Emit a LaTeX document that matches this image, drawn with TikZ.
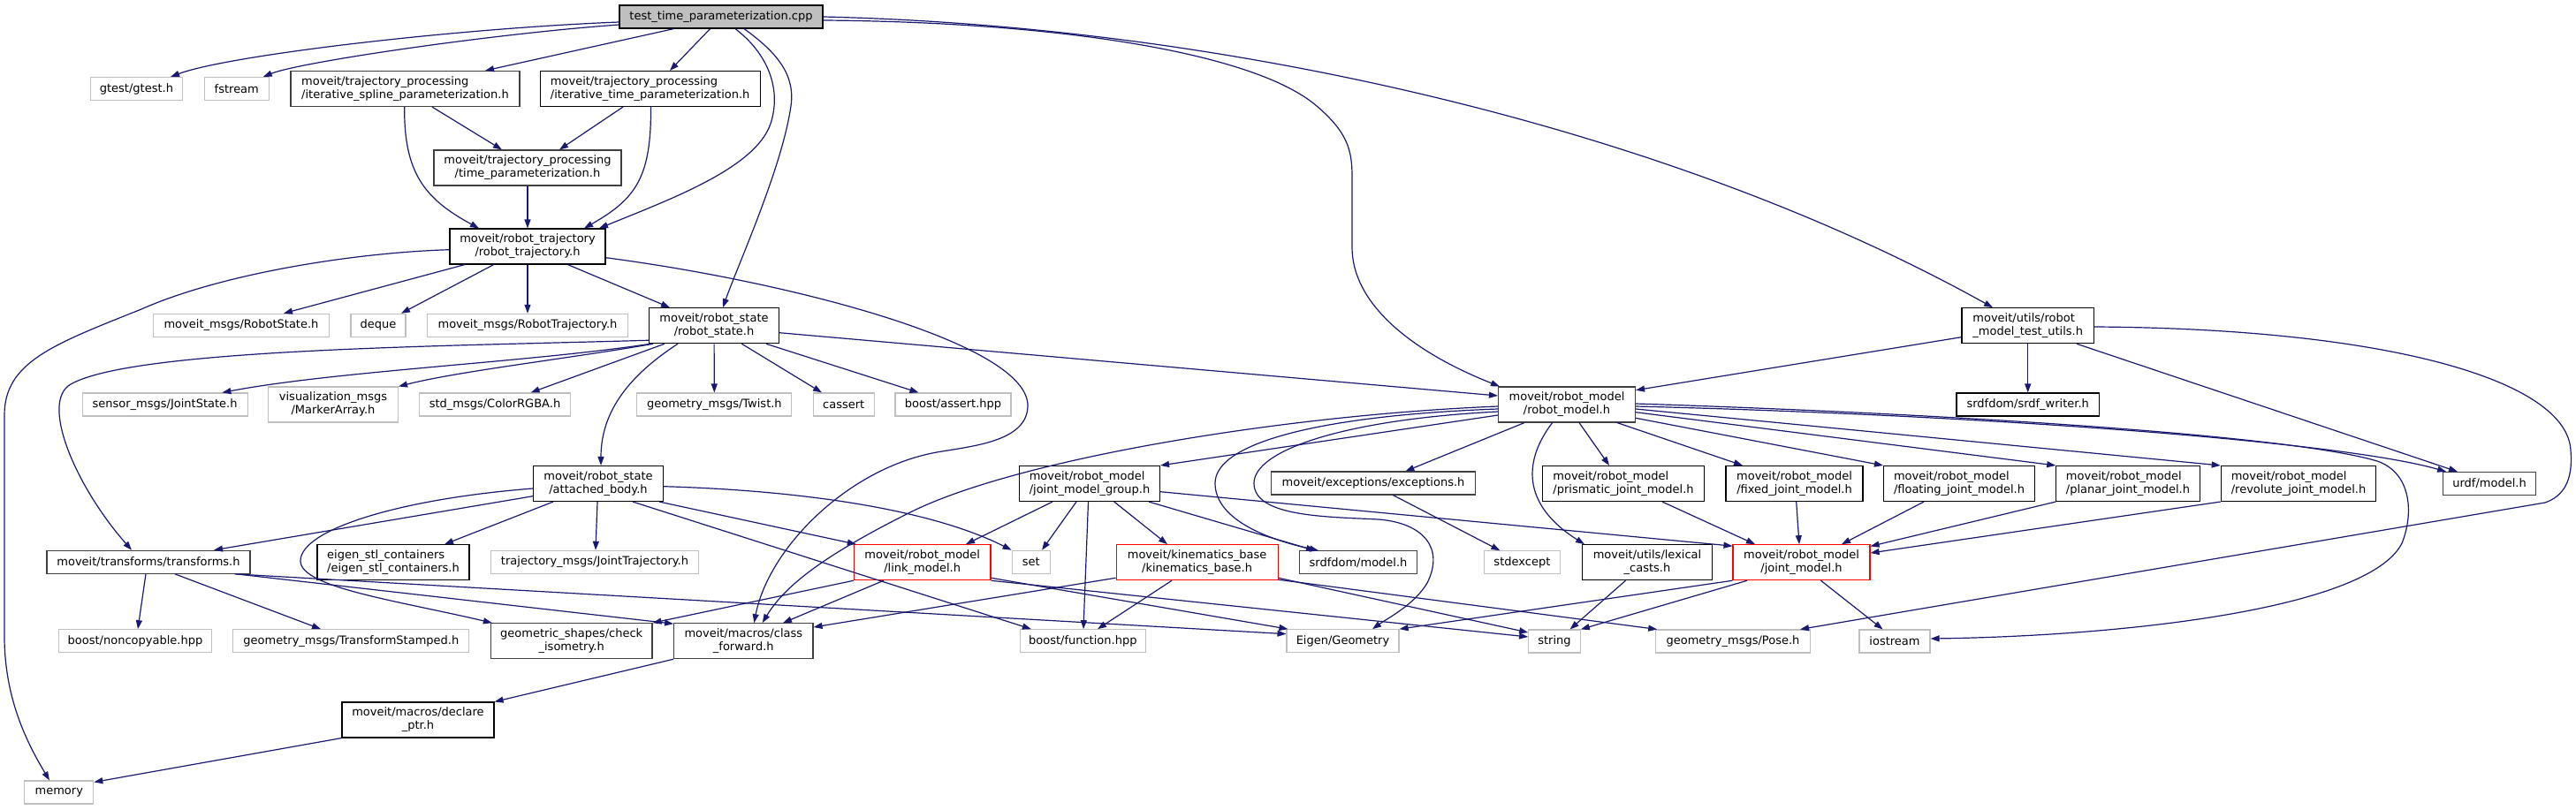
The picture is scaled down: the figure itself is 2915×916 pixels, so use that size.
\documentclass[tikz,border=0pt]{standalone}
\usepackage{fontspec}
\setmainfont{DejaVu Sans}
\usetikzlibrary{arrows.meta}
\definecolor{edgec}{HTML}{191970}
\definecolor{grayc}{HTML}{BFBFBF}
\definecolor{darkc}{HTML}{404040}
\newcommand\twol[2]{\begin{tabular}{@{}c@{}}\multicolumn{1}{@{}l@{}}{#1}\\#2\end{tabular}}
\begin{document}
\begin{tikzpicture}[x=1pt,y=-1pt,
  every node/.style={font=\fontsize{13}{15}\selectfont},
  box/.style={rectangle, draw, inner sep=0pt, line width=1.1pt, fill=white},
  gnode/.style={box, draw=grayc},
  bnode/.style={box, draw=black},
  dnode/.style={box, draw=darkc},
  rnode/.style={box, draw=red},
  topnode/.style={box, draw=black, fill=grayc},
  edge/.style={draw=edgec, line width=1.2pt, -{Triangle[length=10pt,width=7pt]}}]
\fill[white] (0,0) rectangle (2915,916);
\useasboundingbox (0,0) rectangle (2915,916);
% ---------- nodes ----------
\node[topnode, minimum width=230pt, minimum height=26pt] (T) at (816,19) {test\_time\_parameterization.cpp};
\node[gnode, minimum width=104pt, minimum height=26pt] (gtest) at (154.4,100.5) {gtest/gtest.h};
\node[gnode, minimum width=73.5pt, minimum height=26pt] (fstream) at (267.8,100.5) {fstream};
\node[dnode, minimum width=259pt, minimum height=40pt] (IS) at (458.5,100.5) {\twol{moveit/trajectory\_processing}{/iterative\_spline\_parameterization.h}};
\node[bnode, minimum width=249pt, minimum height=40pt] (IT) at (735.7,100.5) {\twol{moveit/trajectory\_processing}{/iterative\_time\_parameterization.h}};
\node[dnode, minimum width=212pt, minimum height=40pt] (TP) at (597,190) {\twol{moveit/trajectory\_processing}{/time\_parameterization.h}};
\node[bnode, minimum width=176pt, minimum height=40pt] (RT) at (597,279) {\twol{moveit/robot\_trajectory}{/robot\_trajectory.h}};
\node[gnode, minimum width=199pt, minimum height=26pt] (RSh) at (273,368.3) {moveit\_msgs/RobotState.h};
\node[gnode, minimum width=62pt, minimum height=26pt] (deque) at (428,368.3) {deque};
\node[gnode, minimum width=227pt, minimum height=26pt] (RTmsg) at (597,368.3) {moveit\_msgs/RobotTrajectory.h};
\node[bnode, minimum width=147pt, minimum height=40pt] (RS) at (808,368.7) {\twol{moveit/robot\_state}{/robot\_state.h}};
\node[bnode, minimum width=149.5pt, minimum height=40pt] (RMTU) at (2294.7,368.7) {\twol{moveit/utils/robot}{\_model\_test\_utils.h}};
\node[gnode, minimum width=187pt, minimum height=26pt] (JS) at (186.6,458) {sensor\_msgs/JointState.h};
\node[gnode, minimum width=147pt, minimum height=40pt] (MA) at (377,458) {\twol{visualization\_msgs}{/MarkerArray.h}};
\node[gnode, minimum width=171pt, minimum height=26pt] (CRGBA) at (560,458) {std\_msgs/ColorRGBA.h};
\node[gnode, minimum width=175pt, minimum height=26pt] (Twist) at (808.4,458) {geometry\_msgs/Twist.h};
\node[gnode, minimum width=69pt, minimum height=26pt] (cassert) at (954.7,458) {cassert};
\node[gnode, minimum width=131pt, minimum height=26pt] (bassert) at (1078.5,458) {boost/assert.hpp};
\node[dnode, minimum width=155pt, minimum height=40pt] (RM) at (1773,458) {\twol{moveit/robot\_model}{/robot\_model.h}};
\node[bnode, minimum width=161.5pt, minimum height=26pt] (SW) at (2294.7,458) {srdfdom/srdf\_writer.h};
\node[bnode, minimum width=147pt, minimum height=40pt] (AB) at (677,547.5) {\twol{moveit/robot\_state}{/attached\_body.h}};
\node[bnode, minimum width=159pt, minimum height=40pt] (JMG) at (1233,547.5) {\twol{moveit/robot\_model}{/joint\_model\_group.h}};
\node[dnode, minimum width=231pt, minimum height=26pt] (EX) at (1554,547) {moveit/exceptions/exceptions.h};
\node[bnode, minimum width=183.5pt, minimum height=40pt] (PJ) at (1837,547.5) {\twol{moveit/robot\_model}{/prismatic\_joint\_model.h}};
\node[bnode, minimum width=155pt, minimum height=40pt] (FJ) at (2030.5,547.5) {\twol{moveit/robot\_model}{/fixed\_joint\_model.h}};
\node[bnode, minimum width=171pt, minimum height=40pt] (FLJ) at (2217,547.5) {\twol{moveit/robot\_model}{/floating\_joint\_model.h}};
\node[bnode, minimum width=162.5pt, minimum height=40pt] (PLJ) at (2408,547.5) {\twol{moveit/robot\_model}{/planar\_joint\_model.h}};
\node[bnode, minimum width=175.5pt, minimum height=40pt] (RJ) at (2601,547.5) {\twol{moveit/robot\_model}{/revolute\_joint\_model.h}};
\node[dnode, minimum width=104.7pt, minimum height=26pt] (URDF) at (2817,547.5) {urdf/model.h};
\node[dnode, minimum width=230pt, minimum height=26pt] (TF) at (168,636.3) {moveit/transforms/transforms.h};
\node[bnode, minimum width=172pt, minimum height=40pt] (ESC) at (445,636.7) {\twol{eigen\_stl\_containers}{/eigen\_stl\_containers.h}};
\node[gnode, minimum width=234.5pt, minimum height=26pt] (JT) at (673,636.3) {trajectory\_msgs/JointTrajectory.h};
\node[rnode, minimum width=154.6pt, minimum height=40pt] (LM) at (1043.7,636.7) {\twol{moveit/robot\_model}{/link\_model.h}};
\node[gnode, minimum width=43pt, minimum height=26pt] (set) at (1166.7,636.3) {set};
\node[rnode, minimum width=183pt, minimum height=40pt] (KB) at (1354.6,636.7) {\twol{moveit/kinematics\_base}{/kinematics\_base.h}};
\node[dnode, minimum width=133.6pt, minimum height=26pt] (SM) at (1537,636.8) {srdfdom/model.h};
\node[gnode, minimum width=86pt, minimum height=26pt] (SE) at (1722.4,636.8) {stdexcept};
\node[bnode, minimum width=147pt, minimum height=40pt] (LC) at (1864,636.7) {\twol{moveit/utils/lexical}{\_casts.h}};
\node[rnode, minimum width=155pt, minimum height=40pt] (JM) at (2038.5,636.7) {\twol{moveit/robot\_model}{/joint\_model.h}};
\node[gnode, minimum width=173pt, minimum height=26pt] (BNC) at (153,725.7) {boost/noncopyable.hpp};
\node[gnode, minimum width=267pt, minimum height=26pt] (TS) at (397.4,725.7) {geometry\_msgs/TransformStamped.h};
\node[dnode, minimum width=182.5pt, minimum height=40pt] (CI) at (646.7,725.7) {\twol{geometric\_shapes/check}{\_isometry.h}};
\node[dnode, minimum width=157.4pt, minimum height=40pt] (CF) at (841.3,725.7) {\twol{moveit/macros/class}{\_forward.h}};
\node[gnode, minimum width=142.5pt, minimum height=26pt] (BF) at (1225.3,725.7) {boost/function.hpp};
\node[gnode, minimum width=127pt, minimum height=26pt] (EG) at (1519.5,725.7) {Eigen/Geometry};
\node[gnode, minimum width=58.6pt, minimum height=26pt] (STR) at (1759,726) {string};
\node[gnode, minimum width=174.5pt, minimum height=26pt] (POSE) at (1961,726) {geometry\_msgs/Pose.h};
\node[gnode, minimum width=80pt, minimum height=26pt] (IOS) at (2144,726) {iostream};
\node[bnode, minimum width=172pt, minimum height=40pt] (DP) at (473,815) {\twol{moveit/macros/declare}{\_ptr.h}};
\node[gnode, minimum width=78pt, minimum height=26pt] (MEM) at (66.8,897) {memory};
% ---------- edges from top ----------
\draw[edge] ([yshift=-6pt]T.west) .. controls (520,32) and (260,62) .. ([xshift=38.6pt]gtest.north);
\draw[edge] ([yshift=-9pt]T.west) .. controls (560,38) and (340,70) .. ([xshift=30pt]fstream.north);
\draw[edge] ([xshift=-53.4pt]T.south) -- ([xshift=90.5pt]IS.north);
\draw[edge] ([xshift=-12.4pt]T.south) -- ([xshift=22.3pt]IT.north);
\draw[edge] ([xshift=16pt]T.south) .. controls (868,60) and (885,100) .. (872,140) .. controls (855,190) and (760,225) .. ([xshift=81pt]RT.north);
\draw[edge] ([xshift=26pt]T.south) .. controls (880,60) and (900,85) .. (895,120) .. controls (885,190) and (835,300) .. ([xshift=10pt]RS.north);
\draw[edge] ([yshift=-4pt]T.east) .. controls (1200,25) and (1420,60) .. (1490,120) .. controls (1525,150) and (1530,170) .. (1530,200) -- (1530,280) .. controls (1530,340) and (1590,395) .. ([xshift=2pt]RM.north west);
\draw[edge] (T.east) .. controls (1400,30) and (1900,150) .. ([xshift=-39.7pt]RMTU.north);
% ---------- trajectory processing ----------
\draw[edge] ([xshift=30.5pt]IS.south) -- ([xshift=-29pt]TP.north);
\draw[edge] ([xshift=-0.8pt]IS.south) .. controls (457,195) and (480,225) .. ([xshift=-55pt]RT.north);
\draw[edge] ([xshift=-30.7pt]IT.south) -- ([xshift=36pt]TP.north);
\draw[edge] ([xshift=0.8pt]IT.south) .. controls (737,200) and (720,225) .. ([xshift=64pt]RT.north);
\draw[edge] (TP) -- (RT);
% ---------- robot_trajectory ----------
\draw[edge] ([yshift=-3.7pt]RT.west) .. controls (400,286) and (250,310) .. (160,350) .. controls (60,390) and (5,410) .. (5,470) -- (5,720) .. controls (5,790) and (30,840) .. ([xshift=-10.8pt]MEM.north);
\draw[edge] ([xshift=-71pt]RT.south) -- ([xshift=48pt]RSh.north);
\draw[edge] ([xshift=-38.3pt]RT.south) -- ([xshift=26pt]deque.north);
\draw[edge] (RT) -- (RTmsg);
\draw[edge] ([xshift=45.5pt]RT.south) -- ([xshift=-50pt]RS.north);
\draw[edge] ([yshift=-12.7pt]RT.east) .. controls (900,320) and (1165,390) .. (1163,460) .. controls (1162,500) and (1100,505) .. (1060,512) .. controls (960,530) and (870,620) .. ([xshift=12pt]CF.north);
% ---------- robot_state ----------
\draw[edge] ([xshift=2pt]RS.south west) .. controls (600,410) and (380,420) .. ([xshift=64.8pt]JS.north);
\draw[edge] ([xshift=5pt]RS.south west) .. controls (650,405) and (520,420) .. (MA.north east);
\draw[edge] ([xshift=18pt]RS.south west) -- ([xshift=40.6pt]CRGBA.north);
\draw[edge] ([xshift=-41pt]RS.south) .. controls (720,420) and (680,460) .. ([xshift=3pt]AB.north);
\draw[edge] ([yshift=4pt]RS.south west) .. controls (500,392) and (150,395) .. (80,435) .. controls (45,455) and (85,550) .. ([xshift=-19pt]TF.north);
\draw[edge] (RS) -- (Twist);
\draw[edge] ([xshift=31.4pt]RS.south) -- ([xshift=-24.7pt]cassert.north);
\draw[edge] ([xshift=59pt]RS.south) -- ([xshift=-39pt]bassert.north);
\draw[edge] ([yshift=-8pt]RS.east) -- ([yshift=10pt]RM.west);
% ---------- robot_model_test_utils ----------
\draw[edge] ([yshift=-13pt]RMTU.west) -- ([yshift=16.3pt]RM.east);
\draw[edge] (RMTU) -- (SW);
\draw[edge] ([xshift=55.3pt]RMTU.south) -- ([xshift=-36pt]URDF.north);
\draw[edge] ([yshift=-1.3pt]RMTU.east) .. controls (2700,372) and (2905,430) .. (2909,510) .. controls (2912,545) and (2900,562) .. (2880,569) -- ([xshift=76pt]POSE.north);
% ---------- robot_model ----------
\draw[edge] ([yshift=-12pt]RM.west) -- (JMG.north east);
\draw[edge] ([yshift=-2pt]RM.west) .. controls (1450,470) and (1150,520) .. (1030,580) .. controls (940,625) and (890,660) .. ([xshift=21.4pt]CF.north);
\draw[edge] ([yshift=-5pt]RM.west) .. controls (1500,470) and (1375,500) .. (1375,547) .. controls (1375,590) and (1440,612) .. ([xshift=-45pt]SM.north);
\draw[edge] ([yshift=-8pt]RM.west) .. controls (1520,475) and (1419,510) .. (1419,547) .. controls (1419,585) and (1500,585) .. (1560,588) .. controls (1610,592) and (1635,620) .. (1615,660) .. controls (1600,685) and (1570,700) .. ([xshift=33.5pt]EG.north);
\draw[edge] ([xshift=-48pt]RM.south) -- ([xshift=36.4pt]EX.north);
\draw[edge] ([xshift=-16.4pt]RM.south) .. controls (1725,520) and (1720,570) .. ([xshift=3pt]LC.north west);
\draw[edge] ([xshift=14pt]RM.south) -- ([xshift=-16pt]PJ.north);
\draw[edge] ([xshift=57pt]RM.south) -- ([xshift=-58.5pt]FJ.north);
\draw[edge] ([yshift=-15.3pt]RM.east) -- (FLJ.north west);
\draw[edge] ([yshift=-8.7pt]RM.east) -- (PLJ.north west);
\draw[edge] ([yshift=-5pt]RM.east) -- (RJ.north west);
\draw[edge] ([yshift=-2pt]RM.east) .. controls (2250,470) and (2650,500) .. ([xshift=4pt]URDF.north west);
\draw[edge] ([yshift=1pt]RM.east) .. controls (2250,470) and (2600,495) .. (2690,522) .. controls (2728,535) and (2732,580) .. (2718,615) .. controls (2680,690) and (2400,720) .. ([yshift=3pt]IOS.east);
% ---------- joint_model_group ----------
\draw[edge] ([xshift=-42pt]JMG.south) -- ([xshift=49.3pt]LM.north);
\draw[edge] ([xshift=-15pt]JMG.south) -- ([xshift=12.3pt]set.north);
\draw[edge] ([xshift=-1.5pt]JMG.south) -- ([xshift=0.7pt]BF.north);
\draw[edge] ([xshift=27.8pt]JMG.south) -- ([xshift=-33.6pt]KB.north);
\draw[edge] ([xshift=67pt]JMG.south) -- ([xshift=-49pt]SM.north);
\draw[edge] ([yshift=-9.2pt]JMG.east) -- ([yshift=-2pt]JM.north west);
% ---------- attached_body ----------
\draw[edge] ([yshift=-14.2pt]AB.west) -- ([xshift=74pt]TF.north);
\draw[edge] ([yshift=-5.5pt]AB.west) .. controls (450,565) and (340,600) .. (340,635) .. controls (340,665) and (450,680) .. ([xshift=2pt]CI.north west);
\draw[edge] ([xshift=-51pt]AB.south) -- ([xshift=58pt]ESC.north);
\draw[edge] ([xshift=-1pt]AB.south) -- ([xshift=1pt]JT.north);
\draw[edge] ([yshift=-3.2pt]AB.east) .. controls (900,555) and (1050,575) .. (set.north west);
\draw[edge] ([xshift=-5pt]AB.south east) -- ([xshift=3pt]LM.north west);
\draw[edge] ([xshift=-35pt]AB.south east) -- ([xshift=13.4pt]BF.north west);
% ---------- transforms ----------
\draw[edge] ([xshift=-3pt]TF.south) -- ([xshift=3pt]BNC.north);
\draw[edge] ([xshift=30pt]TF.south) -- ([xshift=-34.4pt]TS.north);
\draw[edge] ([xshift=-18pt]TF.south east) -- ([yshift=8pt]EG.west);
\draw[edge] ([xshift=-16pt]TF.south east) -- ([yshift=-1pt]CF.north west);
% ---------- link_model ----------
\draw[edge] ([xshift=-43.7pt]LM.south) -- ([xshift=44.7pt]CF.north);
\draw[edge] (LM.south west) -- (CI.north east);
\draw[edge] ([yshift=3pt]LM.south east) -- ([xshift=2pt]EG.north west);
\draw[edge] (LM.south east) -- ([yshift=5pt]STR.west);
% ---------- kinematics_base ----------
\draw[edge] ([yshift=3pt]KB.south west) -- ([yshift=15.7pt]CF.east);
\draw[edge] ([xshift=-28.6pt]KB.south) -- ([xshift=16.7pt]BF.north);
\draw[edge] ([yshift=3pt]KB.south east) -- ([yshift=10pt]STR.west);
\draw[edge] ([yshift=1pt]KB.south east) -- ([xshift=2pt]POSE.north west);
% ---------- lexical / joint_model ----------
\draw[edge] ([xshift=-24.5pt]LC.south) -- ([xshift=17.6pt]STR.north);
\draw[edge] ([xshift=-61.5pt]JM.south) -- (STR.north east);
\draw[edge] (JM.south west) -- (EG.north east);
\draw[edge] ([xshift=22pt]JM.south) -- ([xshift=-13.5pt]IOS.north);
\draw[edge] ([xshift=44pt]PJ.south) -- ([xshift=-52.5pt]JM.north);
\draw[edge] ([xshift=2.2pt]FJ.south) -- ([xshift=-2.5pt]JM.north);
\draw[edge] ([xshift=-40pt]FLJ.south) -- ([xshift=45.5pt]JM.north);
\draw[edge] (PLJ.south west) -- ([yshift=-2.3pt]JM.north east);
\draw[edge] (RJ.south west) -- ([yshift=10.7pt]JM.east);
% ---------- misc ----------
\draw[edge] ([xshift=22.4pt]EX.south) -- ([xshift=-25pt]SE.north);
\draw[edge] (CF.south west) -- (DP.north east);
\draw[edge] (DP.south west) -- ([yshift=-2pt]MEM.north east);
\end{tikzpicture}
\end{document}
